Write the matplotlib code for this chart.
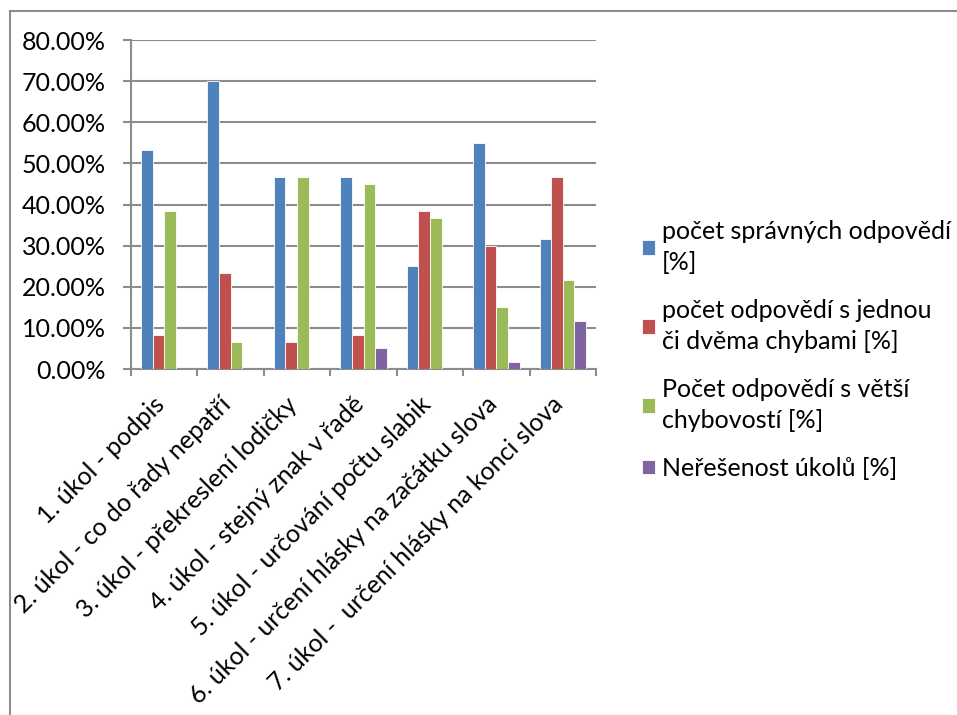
import numpy as np
import matplotlib
matplotlib.use("Agg")
import matplotlib.pyplot as plt
from matplotlib.lines import Line2D
from matplotlib.ticker import FuncFormatter, FixedLocator
from matplotlib.transforms import ScaledTranslation

plt.rcParams['font.family'] = ['Lato', 'DejaVu Sans']

categories = [
    "1. úkol - podpis",
    "2. úkol - co do řady nepatří",
    "3. úkol - překreslení lodičky",
    "4. úkol - stejný znak v řadě",
    "5. úkol - určování počtu slabik",
    "6. úkol - určení hlásky na začátku slova",
    "7. úkol -  určení hlásky na konci slova",
]
series_names = [
    "počet správných odpovědí\n[%]",
    "počet odpovědí s jednou\nči dvěma chybami [%]",
    "Počet odpovědí s větší\nchybovostí [%]",
    "Neřešenost úkolů [%]",
]
correct = [53.33, 70.0, 46.67, 46.67, 25.0, 55.0, 31.67]
one_two_err = [8.33, 23.33, 6.67, 8.33, 38.33, 30.0, 46.67]
more_err = [38.33, 6.67, 46.67, 45.0, 36.67, 15.0, 21.67]
unsolved = [0, 0, 0, 5.0, 0, 1.67, 11.67]
colors = ["#4F81BD", "#C0504D", "#9BBB59", "#8064A2"]

fig = plt.figure(figsize=(9.57, 7.15), dpi=100)
ax = fig.add_axes([131/957, 1 - 369/715, (596 - 131)/957, (369 - 40)/715])

x = np.arange(len(categories))
w = 0.175
data = [correct, one_two_err, more_err, unsolved]
for i, (vals, c, name) in enumerate(zip(data, colors, series_names)):
    ax.bar(x + (i - 1.5) * w, vals, w, color=c, label=name,
           edgecolor="white", linewidth=0.6, zorder=3)

ax.set_xlim(-0.5, len(categories) - 0.5)
ax.set_ylim(0, 80)
ax.set_yticks(np.arange(0, 81, 10))
ax.yaxis.set_major_formatter(FuncFormatter(lambda v, p: f"{v:.2f}%"))
ax.grid(axis="y", color="#8c8c8c", linewidth=1.5, zorder=0)

ax.set_xticks(x)
ax.set_xticklabels(categories, rotation=45, ha="right", fontsize=18)
ax.tick_params(axis="x", length=0, pad=17)
shift = ScaledTranslation(5/100, 0, fig.dpi_scale_trans)
for lab in ax.get_xticklabels():
    lab.set_transform(lab.get_transform() + shift)
ax.xaxis.set_minor_locator(FixedLocator(np.arange(-0.5, len(categories), 1)))
ax.tick_params(axis="x", which="minor", length=5, width=1.5, color="#8c8c8c")
ax.tick_params(axis="y", length=6, width=1.5, color="#8c8c8c", labelsize=18, pad=12)

for s in ["top", "right"]:
    ax.spines[s].set_visible(False)
for s in ["left", "bottom"]:
    ax.spines[s].set_color("#8c8c8c")
    ax.spines[s].set_linewidth(1.5)

handles, labels = ax.get_legend_handles_labels()
leg = fig.legend(handles, labels, loc="upper left", bbox_to_anchor=(632/957, 1 - 210/715),
                 frameon=False, fontsize=18, handlelength=0.5, handleheight=0.5,
                 handletextpad=0.3, labelspacing=1.0, borderaxespad=0)
for t in leg.get_texts():
    t.set_linespacing(1.42)

fig.add_artist(Line2D([10/957, 10/957], [0, 1 - 11/715], transform=fig.transFigure,
                      color="#8c8c8c", linewidth=1.5))
fig.add_artist(Line2D([10/957, 1], [1 - 11/715, 1 - 11/715], transform=fig.transFigure,
                      color="#8c8c8c", linewidth=1.5))

fig.savefig("out.png", dpi=100, facecolor="white")
